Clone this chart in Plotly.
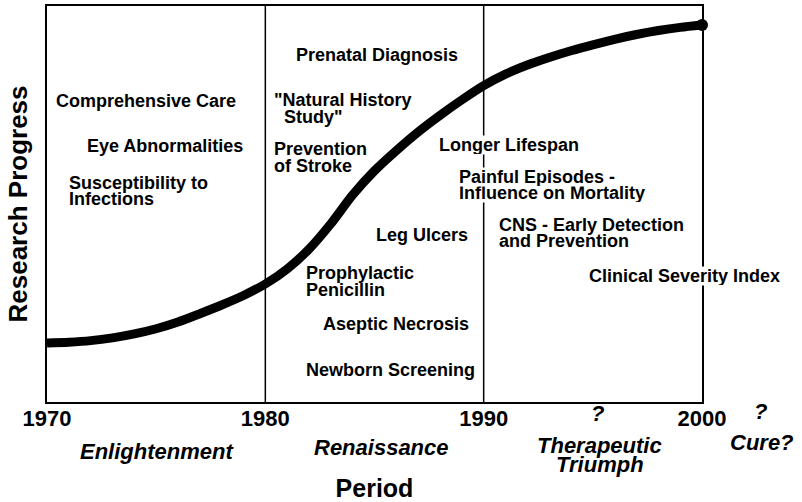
import plotly.graph_objects as go

# ---- data ----
years = list(range(1970, 2001))
progress = [14.9, 15.1, 15.5, 16.2, 17.2, 18.5, 20.2, 22.3, 24.5, 26.9,
            29.8, 33.6, 38.6, 45.0, 52.3, 58.4, 63.5, 68.2, 72.4, 76.3,
            79.9, 82.8, 85.1, 87.0, 88.7, 90.2, 91.6, 92.8, 93.8, 94.6, 95.2]

tick_years = [1970, 1980, 1990, 2000]
tick_labels = ["1970", "1980", "1990", "2000"]
era_boundaries = [1980, 1990]

milestones = [
    "Comprehensive Care", "Eye Abnormalities", "Susceptibility to", "Infections",
    "Prenatal Diagnosis", "\"Natural History", "Study\"", "Prevention", "of Stroke",
    "Leg Ulcers", "Prophylactic", "Penicillin", "Aseptic Necrosis", "Newborn Screening",
    "Longer Lifespan", "Influence on Mortality", "Painful Episodes -",
    "CNS - Early Detection", "and Prevention", "Clinical Severity Index",
]
eras = ["Enlightenment", "Renaissance", "Therapeutic", "Triumph", "Cure?"]
question_marks = ["?", "?"]

# ---- layout placement ----
# milestone lines: (year, progress), left-anchored
milestone_pos = [
    (1970.37, 76.0), (1971.79, 64.6), (1970.96, 55.3), (1970.96, 51.3),
    (1981.36, 87.6), (1980.35, 76.3), (1980.81, 72.0), (1980.35, 63.9), (1980.35, 59.6),
    (1985.02, 42.2), (1981.82, 32.6), (1981.82, 28.3), (1982.60, 19.7), (1981.82, 8.1),
    (1987.91, 64.9), (1988.82, 52.8), (1988.82, 56.8),
    (1990.66, 44.7), (1990.66, 40.7), (1994.78, 31.8),
]
masked = {"Longer Lifespan", "Painful Episodes -", "Influence on Mortality",
          "Clinical Severity Index"}
# below-axis labels: (paper x, paper y)
era_pos = [(0.168, -0.124), (0.510, -0.116), (0.844, -0.1086),
           (0.844, -0.159), (1.0916, -0.1035)]
qmark_pos = [(0.841, -0.028), (1.090, -0.023)]

FONT = "Liberation Sans, Arial, Helvetica, sans-serif"

fig = go.Figure()
fig.add_trace(go.Scatter(
    x=years, y=progress, mode="lines",
    line=dict(color="black", width=9, shape="spline", smoothing=0.8),
    hoverinfo="skip", showlegend=False, cliponaxis=False,
))
fig.add_trace(go.Scatter(
    x=years[-1:], y=progress[-1:], mode="markers",
    marker=dict(color="black", size=12),
    hoverinfo="skip", showlegend=False, cliponaxis=False,
))

for yr in era_boundaries:
    fig.add_shape(type="line", x0=yr, x1=yr, xref="x", y0=0, y1=1, yref="paper",
                  line=dict(color="black", width=1.5), layer="below")

annotations = []
for text, (ax, ay) in zip(milestones, milestone_pos):
    ann = dict(
        x=ax, y=ay, xref="x", yref="y", text=text, showarrow=False,
        xanchor="left", yanchor="middle", borderpad=0,
        font=dict(family=FONT, size=18, color="black", weight="bold"),
    )
    if text in masked:
        ann.update(bgcolor="white", height=18)
    annotations.append(ann)
for text, (ax, ay) in zip(eras, era_pos):
    annotations.append(dict(
        x=ax, y=ay, xref="paper", yref="paper", text=text, showarrow=False,
        xanchor="center", yanchor="middle",
        font=dict(family=FONT, size=22, color="black", weight="bold", style="italic"),
    ))
for text, (ax, ay) in zip(question_marks, qmark_pos):
    annotations.append(dict(
        x=ax, y=ay, xref="paper", yref="paper", text=text, showarrow=False,
        xanchor="center", yanchor="middle",
        font=dict(family=FONT, size=22, color="black", weight="bold", style="italic"),
    ))

fig.update_layout(
    width=802, height=502,
    margin=dict(l=47, r=100, t=6, b=100),
    paper_bgcolor="white", plot_bgcolor="white",
    showlegend=False,
    annotations=annotations,
    xaxis=dict(
        range=[1970, 2000], tickmode="array", tickvals=tick_years, ticktext=tick_labels,
        showgrid=False, zeroline=False, showline=True, mirror=True, automargin=False,
        linecolor="black", linewidth=1.5, ticks="", ticklabelstandoff=-4,
        tickfont=dict(family=FONT, size=22, color="black", weight="bold"),
        title=dict(text="Period", standoff=50,
                   font=dict(family=FONT, size=25, color="black", weight="bold")),
    ),
    yaxis=dict(
        range=[0, 100], showticklabels=False, ticks="", automargin=False,
        showgrid=False, zeroline=False, showline=True, mirror=True,
        linecolor="black", linewidth=1.5,
        title=dict(text="Research Progress", standoff=10,
                   font=dict(family=FONT, size=26, color="black", weight="bold")),
    ),
)

fig.write_html(
    "out.html",
    config={"displayModeBar": False},
    post_script="document.body.style.margin='0';document.body.style.padding='0';",
)
